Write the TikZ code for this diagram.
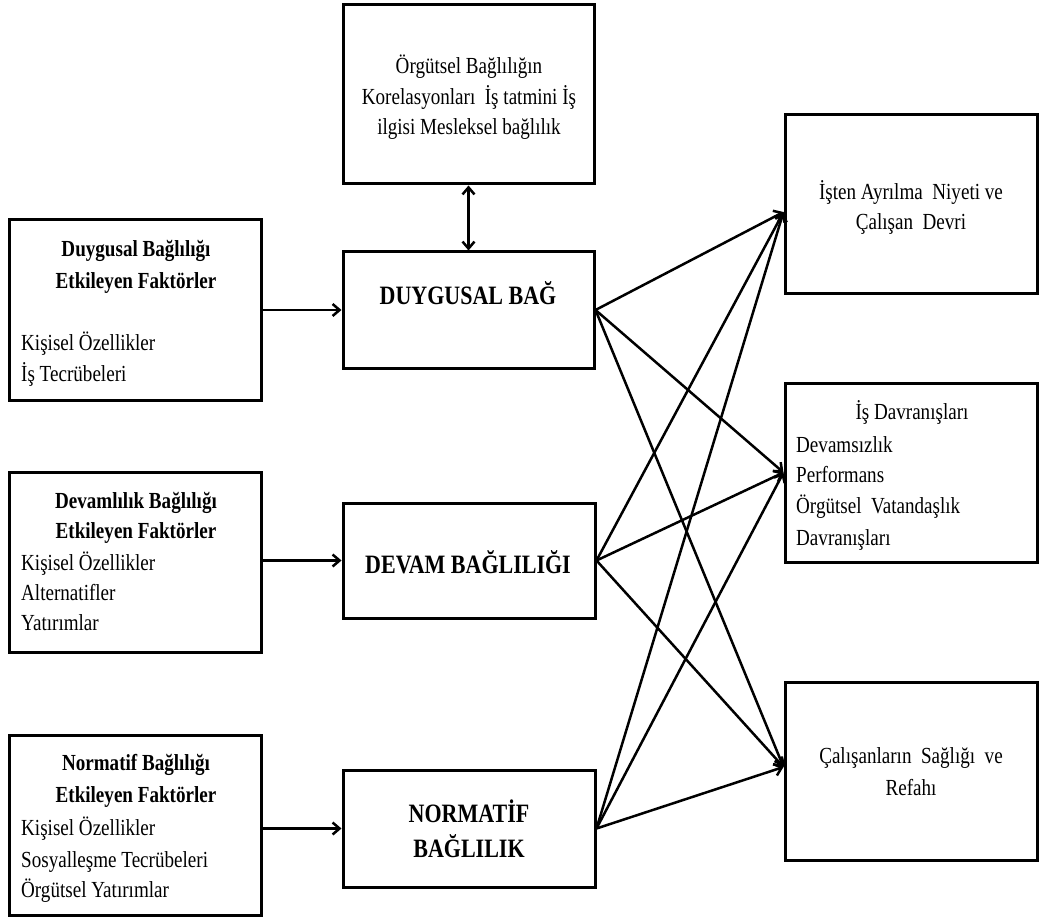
\documentclass[tikz,border=0pt]{standalone}
\usepackage{fontspec}
\setmainfont[FakeStretch=0.83]{Liberation Serif}
\usetikzlibrary{arrows.meta}

\begin{document}
\begin{tikzpicture}[x=1pt,y=-1pt,
  box/.style={draw=black, line width=3pt, rectangle, inner sep=0pt, fill=white},
  lbl/.style={inner sep=0pt, anchor=base, font=\fontsize{23}{28}\selectfont},
  lbll/.style={lbl, anchor=base west},
  hdr/.style={lbl, font=\fontsize{23}{28}\selectfont\bfseries},
  big/.style={lbl, font=\fontsize{26.5}{32}\selectfont\bfseries},
  conn/.style={line width=2.5pt, -{Straight Barb[length=7pt,width=12pt,line width=2.5pt]}},
  dconn/.style={line width=2.5pt, {Straight Barb[length=7pt,width=12pt,line width=2.5pt]}-{Straight Barb[length=7pt,width=12pt,line width=2.5pt]}}
]
\useasboundingbox (0,0) rectangle (1039,920);

% left column: factor boxes
\node[box, minimum width=252, minimum height=180] (L1) at (135,310) {};
\node[box, minimum width=252, minimum height=180] (L2) at (135,562) {};
\node[box, minimum width=252, minimum height=180] (L3) at (135,825) {};

% middle column
\node[box, minimum width=251, minimum height=179] (T)  at (468.5,94.5) {};
\node[box, minimum width=251, minimum height=116] (D1) at (468.5,310) {};
\node[box, minimum width=252, minimum height=115] (D2) at (469,560.5) {};
\node[box, minimum width=252, minimum height=117] (D3) at (469,828.5) {};

% right column: outcomes
\node[box, minimum width=252, minimum height=178] (R1) at (911,204) {};
\node[box, minimum width=252, minimum height=179] (R2) at (911,472.5) {};
\node[box, minimum width=252, minimum height=178] (R3) at (911,771) {};

% texts of the left boxes
\node[hdr] (l1a) at (136,257) {Duygusal Bağlılığı};
\node[hdr] (l1b) at (136,288) {Etkileyen Faktörler};
\node[lbll] (l1c) at (21,350) {Kişisel Özellikler};
\node[lbll] (l1d) at (21,381) {İş Tecrübeleri};

\node[hdr] (l2a) at (136,508) {Devamlılık Bağlılığı};
\node[hdr] (l2b) at (136,538) {Etkileyen Faktörler};
\node[lbll] (l2c) at (21,570) {Kişisel Özellikler};
\node[lbll] (l2d) at (21,600) {Alternatifler};
\node[lbll] (l2e) at (21,630) {Yatırımlar};

\node[hdr] (l3a) at (136,770) {Normatif Bağlılığı};
\node[hdr] (l3b) at (136,802) {Etkileyen Faktörler};
\node[lbll] (l3c) at (21,835) {Kişisel Özellikler};
\node[lbll] (l3d) at (21,867) {Sosyalleşme Tecrübeleri};
\node[lbll] (l3e) at (21,897) {Örgütsel Yatırımlar};

% texts of the middle boxes
\node[lbl] (ta) at (469,74)  {Örgütsel Bağlılığın};
\node[lbl] (tb) at (469,105) {Korelasyonları \ İş tatmini İş};
\node[lbl] (tc) at (469,135) {ilgisi Mesleksel bağlılık};

\node[big] (d1a) at (468,305) {DUYGUSAL BAĞ};
\node[big] (d2a) at (468,573) {DEVAM BAĞLILIĞI};
\node[big] (d3a) at (469,822) {NORMATİF};
\node[big] (d3b) at (469,857) {BAĞLILIK};

% texts of the right boxes
\node[lbl] (r1a) at (911,200) {İşten Ayrılma \ Niyeti ve};
\node[lbl] (r1b) at (911,230) {Çalışan \ Devri};

\node[lbl] (r2a) at (912,419) {İş Davranışları};
\node[lbll] (r2b) at (796,452) {Devamsızlık};
\node[lbll] (r2c) at (796,482) {Performans};
\node[lbll] (r2d) at (796,513) {Örgütsel \ Vatandaşlık};
\node[lbll] (r2e) at (796,545) {Davranışları};

\node[lbl] (r3a) at (911,763) {Çalışanların \ Sağlığı \ ve};
\node[lbl] (r3b) at (911,795) {Refahı};

% arrow entry points on the outcome boxes
\coordinate (r1in) at ([yshift=-8pt]R1.west);
\coordinate (r2in) at (R2.west);
\coordinate (r3in) at ([yshift=4pt]R3.west);

% factors -> commitment types (horizontal)
\draw[conn] (L1.east |- D1.west) -- (D1.west);
\draw[conn] (L2.east |- D2.west) -- (D2.west);
\draw[conn] (L3.east |- D3.west) -- (D3.west);

% correlates <-> affective commitment
\draw[dconn] (T.south) -- (D1.north);

% commitment types -> outcomes
\foreach \d in {D1,D2,D3}{
  \draw[conn] (\d.east) -- (r1in);
  \draw[conn] (\d.east) -- (r2in);
  \draw[conn] (\d.east) -- (r3in);
}
\end{tikzpicture}
\end{document}
